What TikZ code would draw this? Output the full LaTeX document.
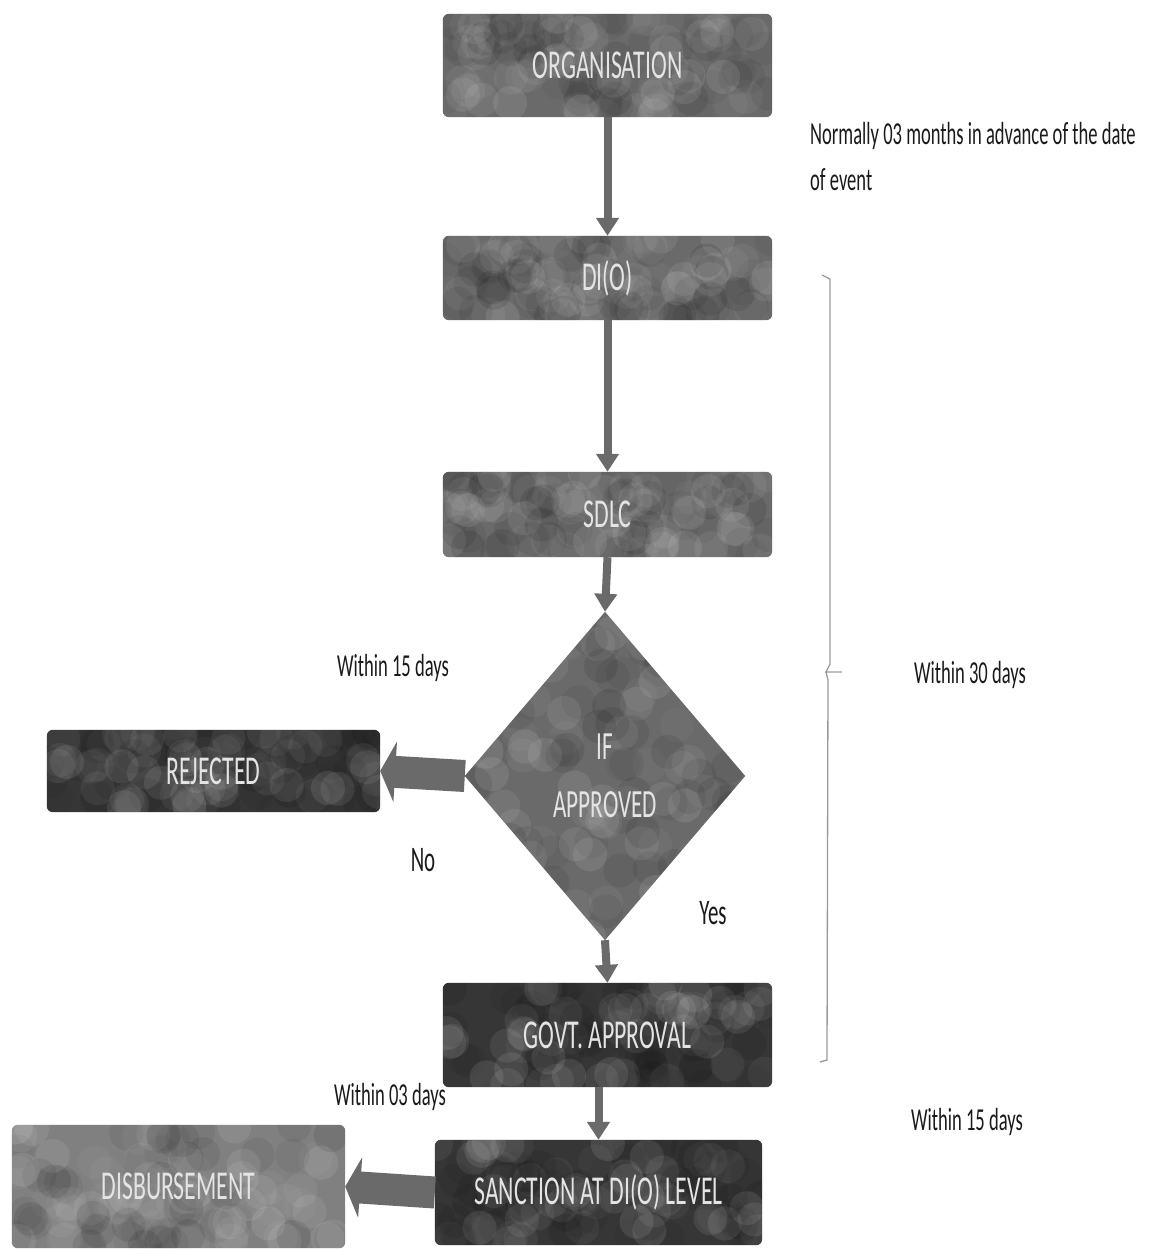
\documentclass[tikz,border=0pt]{standalone}
\usepackage{fontspec}
\setmainfont{Carlito}
\newfontfamily\cnd[FakeStretch=0.58]{Carlito}
\usetikzlibrary{arrows.meta,shapes.geometric,calc,backgrounds}
\definecolor{midg}{HTML}{6A6A6A}
\definecolor{darkg}{HTML}{363636}
\definecolor{lightg}{HTML}{808080}
\definecolor{txtc}{HTML}{E4E4E4}
\definecolor{labc}{HTML}{1A1A1A}
\newcommand\mottlebox[2]{%
  \fill[#2, rounded corners=6pt] (#1.south west) rectangle (#1.north east);
  \begin{scope}
    \clip[rounded corners=6pt] (#1.south west) rectangle (#1.north east);
    \foreach \i in {1,...,110}{
      \pgfmathsetmacro\rx{rnd}\pgfmathsetmacro\ry{rnd}\pgfmathsetmacro\op{0.03+0.07*rnd}
      \pgfmathsetmacro\pick{rnd}
      \ifdim\pick pt>0.5pt
        \fill[black, opacity=\op] ($(#1.south west)!\rx!(#1.south east) + (#1.south west)!\ry!(#1.north west) - (#1.south west)$) circle (17pt);
      \else
        \fill[white, opacity=\op] ($(#1.south west)!\rx!(#1.south east) + (#1.south west)!\ry!(#1.north west) - (#1.south west)$) circle (17pt);
      \fi
    }
  \end{scope}}
\begin{document}
\begin{tikzpicture}[x=1pt,y=-1pt,
  box/.style={rectangle, inner sep=0pt, text=txtc, font=\cnd\fontsize{41}{42}\selectfont},
  dia/.style={diamond, inner sep=0pt, text=txtc, align=center, font=\cnd\fontsize{40}{58}\selectfont},
  lab/.style={inner sep=0pt, text=labc, font=\cnd\fontsize{32}{46}\selectfont},
  varrow/.style={draw=midg, line width=8pt, -{Triangle[width=22pt,length=18pt]}},
  harrow/.style={draw=midg, line width=32pt, -{Triangle[width=60pt,length=15pt]}},
  brace/.style={draw=black!40, line width=1.3pt}
]
\useasboundingbox (0,0) rectangle (1150,1251);
\pgfmathsetseed{7}

\node[box, minimum width=329pt, minimum height=103pt] (org) at (607.5,65.5) {ORGANISATION};
\node[box, minimum width=329pt, minimum height=84pt] (dio) at (607.5,278) {DI(O)};
\node[box, minimum width=329pt, minimum height=85pt] (sdlc) at (607.5,514.5) {SDLC};
\node[dia, minimum width=280pt, minimum height=328pt] (ifa) at (605,776) {IF\\APPROVED};
\node[box, minimum width=333pt, minimum height=82pt] (rej) at (213.5,771) {REJECTED};
\node[box, minimum width=329pt, minimum height=104pt] (govt) at (607.5,1035) {GOVT. APPROVAL};
\node[box, minimum width=327pt, minimum height=105pt] (sanc) at (598.5,1192.5) {SANCTION AT DI(O) LEVEL};
\node[box, minimum width=333pt, minimum height=123pt] (disb) at (178.5,1186.5) {DISBURSEMENT};

\begin{scope}[on background layer]
  \mottlebox{org}{midg}
  \mottlebox{dio}{midg}
  \mottlebox{sdlc}{midg}
  \mottlebox{rej}{darkg}
  \mottlebox{govt}{darkg}
  \mottlebox{sanc}{darkg}
  \mottlebox{disb}{lightg}
  \fill[midg] (ifa.north) -- (ifa.east) -- (ifa.south) -- (ifa.west) -- cycle;
  \begin{scope}
    \clip (ifa.north) -- (ifa.east) -- (ifa.south) -- (ifa.west) -- cycle;
    \foreach \i in {1,...,150}{
      \pgfmathsetmacro\rx{rnd}\pgfmathsetmacro\ry{rnd}\pgfmathsetmacro\op{0.03+0.07*rnd}
      \pgfmathsetmacro\pick{rnd}
      \ifdim\pick pt>0.5pt
        \fill[black, opacity=\op] ($(ifa.west)!\rx!(ifa.east) + (ifa.south)!\ry!(ifa.north) - (ifa.center)$) circle (17pt);
      \else
        \fill[white, opacity=\op] ($(ifa.west)!\rx!(ifa.east) + (ifa.south)!\ry!(ifa.north) - (ifa.center)$) circle (17pt);
      \fi
    }
  \end{scope}
\end{scope}

% connectors
\draw[varrow] (org.south) -- (dio.north);
\draw[varrow] (dio.south) -- (sdlc.north);
\draw[varrow] (sdlc.south) -- (ifa.north);
\draw[varrow] (ifa.south) -- (govt.north);
\draw[varrow] (sanc.north |- govt.south) -- (sanc.north);
\draw[harrow] (ifa.west) -- (rej.east);
\draw[harrow] (sanc.west) -- (disb.east);

% brace
\coordinate (bt) at (822,275);
\coordinate (bb) at (820,1062);
\draw[brace] (bt) -- (830,279) -- (830,664) -- (826,672) -- (842,672) -- (826,672) -- (828,680) -- (827,1060) -- (bb);

% labels
\node[lab, anchor=north west, align=left] (note) at (810,122) {Normally 03 months in advance of the date\\of event};
\node[lab] (w30) at (970,675) {Within 30 days};
\node[lab] (w15a) at (393,668) {Within 15 days};
\node[lab, font=\cnd\fontsize{36}{38}\selectfont] (no) at (423,860) {No};
\node[lab, font=\cnd\fontsize{36}{38}\selectfont] (yes) at (713,913) {Yes};
\node[lab] (w03) at (390,1097) {Within 03 days};
\node[lab] (w15b) at (967,1122) {Within 15 days};
\end{tikzpicture}
\end{document}
